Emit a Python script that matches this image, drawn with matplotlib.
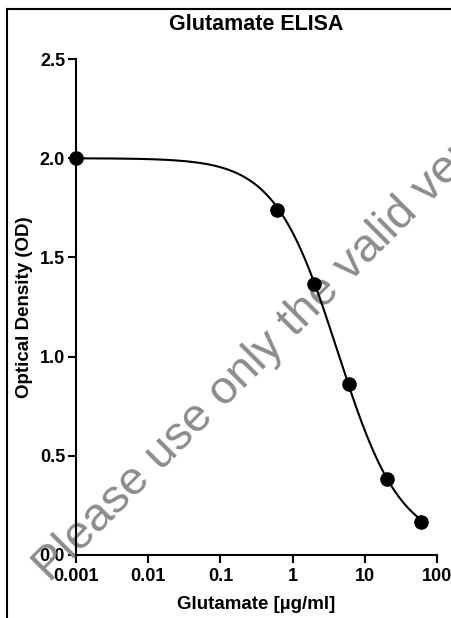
import matplotlib
matplotlib.use("Agg")
import matplotlib.pyplot as plt
from matplotlib.lines import Line2D
import numpy as np

plt.rcParams['font.family'] = ['Liberation Sans', 'DejaVu Sans']

# Puntos medidos (concentración vs densidad óptica)
conc = [0.001, 0.6, 2, 6, 20, 60]
od = [2.0, 1.74, 1.365, 0.86, 0.385, 0.165]

# Parámetros del ajuste logístico de 4 parámetros
fit_top = 2.0
fit_bottom = 0.05
fit_ec50 = 4.2
fit_hill = 1.0

x_ticks = [0.001, 0.01, 0.1, 1, 10, 100]
x_tick_labels = ['0.001', '0.01', '0.1', '1', '10', '100']
y_ticks = [0.0, 0.5, 1.0, 1.5, 2.0, 2.5]
y_tick_labels = ['0.0', '0.5', '1.0', '1.5', '2.0', '2.5']

fig = plt.figure(figsize=(4.52, 6.18), dpi=100)
ax = fig.add_axes([0.168, 0.102, 0.799, 0.8025])

# Curva de ajuste
x_fit = np.geomspace(conc[0], conc[-1], 300)
y_fit = fit_bottom + (fit_top - fit_bottom) / (1 + (x_fit / fit_ec50) ** fit_hill)
ax.plot(x_fit, y_fit, color='black', linewidth=1.5, zorder=3, clip_on=False)
ax.plot(conc, od, linestyle='none', marker='o', color='black', markersize=9.5, zorder=4, clip_on=False)

ax.set_xscale('log')
ax.set_xlim(0.001, 100)
ax.set_ylim(0, 2.5)
ax.set_xticks(x_ticks)
ax.set_xticklabels(x_tick_labels)
ax.set_yticks(y_ticks)
ax.set_yticklabels(y_tick_labels)
ax.xaxis.set_minor_locator(matplotlib.ticker.NullLocator())

for side in ['top', 'right']:
    ax.spines[side].set_visible(False)
for side in ['left', 'bottom']:
    ax.spines[side].set_linewidth(1.5)

ax.tick_params(axis='both', direction='out', length=5.8, width=1.5, labelsize=13)
ax.tick_params(axis='y', pad=2)
ax.tick_params(axis='x', pad=3.5)
for lbl in ax.get_xticklabels() + ax.get_yticklabels():
    lbl.set_fontweight('bold')

ax.set_title('Glutamate ELISA', fontsize=15.5, fontweight='bold', pad=21)
ax.set_xlabel('Glutamate [µg/ml]', fontsize=13.5, fontweight='bold', labelpad=8)
ax.set_ylabel('Optical Density (OD)', fontsize=13.5, fontweight='bold')
ax.yaxis.set_label_coords(-0.12, 0.5)

# Marca de agua (cortada en el borde, igual que el original)
ax.text(50 / 452, 1 - 583 / 618, 'Please use only the valid version',
        transform=fig.transFigure, rotation=45, rotation_mode='anchor',
        ha='left', va='baseline', fontsize=34, color='#8c8c8c',
        zorder=2, clip_on=False)

# Marco cortado de la imagen original
fig.add_artist(Line2D([7 / 452, 1.0], [1 - 9 / 618, 1 - 9 / 618], color='black', linewidth=1.5))
fig.add_artist(Line2D([7 / 452, 7 / 452], [0.0, 1 - 9 / 618], color='black', linewidth=1.5))

plt.savefig('out.png', dpi=100)
plt.close()
